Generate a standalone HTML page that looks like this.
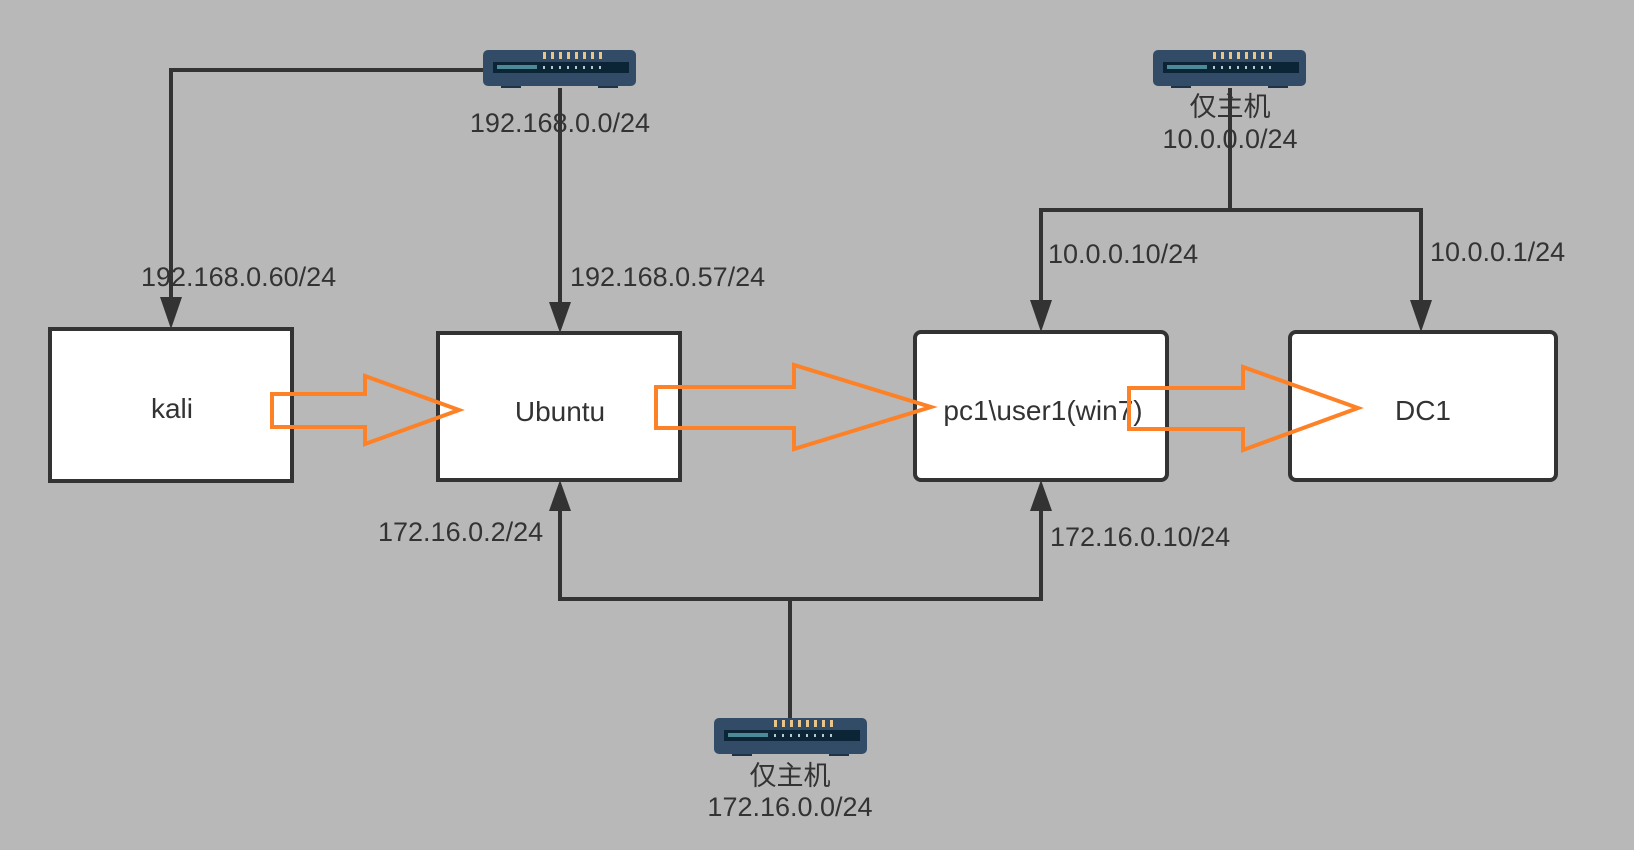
<!DOCTYPE html>
<html><head><meta charset="utf-8"><style>
html,body{margin:0;padding:0;background:#b8b8b8;}
svg{display:block}
text{font-family:"Liberation Sans","Noto Sans CJK SC",sans-serif;fill:#333;}
</style></head><body>
<svg width="1634" height="850" viewBox="0 0 1634 850" xmlns="http://www.w3.org/2000/svg">
<defs>
<g id="sw">
<rect x="0" y="0" width="153" height="36" rx="5" fill="#324b66"/>
<rect x="10" y="12" width="136" height="11" fill="#0b2436"/>
<rect x="14" y="15" width="40" height="4" fill="#4b8a96"/>
<g fill="#e8c58a"><rect x="60" y="2" width="3" height="7"/><rect x="68" y="2" width="3" height="7"/><rect x="76" y="2" width="3" height="7"/><rect x="84" y="2" width="3" height="7"/><rect x="92" y="2" width="3" height="7"/><rect x="100" y="2" width="3" height="7"/><rect x="108" y="2" width="3" height="7"/><rect x="116" y="2" width="3" height="7"/></g>
<g fill="#b8c8d0"><rect x="60" y="16" width="2" height="3"/><rect x="68" y="16" width="2" height="3"/><rect x="76" y="16" width="2" height="3"/><rect x="84" y="16" width="2" height="3"/><rect x="92" y="16" width="2" height="3"/><rect x="100" y="16" width="2" height="3"/><rect x="108" y="16" width="2" height="3"/><rect x="116" y="16" width="2" height="3"/></g>
<rect x="18" y="36" width="20" height="2" fill="#1e3348"/><rect x="115" y="36" width="20" height="2" fill="#1e3348"/>
</g>
</defs>
<g stroke="#333" stroke-width="4" fill="none">
<polyline points="483,70 171,70 171,300"/>
<line x1="560" y1="88" x2="560" y2="305"/>
<polyline points="1230,88 1230,210 1041,210 1041,303"/>
<polyline points="1230,210 1421,210 1421,303"/>
<polyline points="560,508 560,599 1041,599 1041,508"/>
<line x1="790" y1="599" x2="790" y2="718"/>
</g>
<g fill="#333">
<polygon points="160,297 182,297 171,329"/>
<polygon points="549,302 571,302 560,333"/>
<polygon points="1030,300 1052,300 1041,332"/>
<polygon points="1410,300 1432,300 1421,332"/>
<polygon points="549,511 571,511 560,480"/>
<polygon points="1030,511 1052,511 1041,480"/>
</g>
<g fill="#fff" stroke="#333" stroke-width="4">
<rect x="50" y="329" width="242" height="152"/>
<rect x="438" y="333" width="242" height="147"/>
<rect x="915" y="332" width="252" height="148" rx="6"/>
<rect x="1290" y="332" width="266" height="148" rx="6"/>
</g>
<use href="#sw" x="483" y="50"/>
<use href="#sw" x="1153" y="50"/>
<use href="#sw" x="714" y="718"/>
<g font-size="28">
<text x="172" y="418" text-anchor="middle">kali</text>
<text x="560" y="421" text-anchor="middle">Ubuntu</text>
<text x="1043" y="420" text-anchor="middle">pc1\user1(win7)</text>
<text x="1423" y="420" text-anchor="middle">DC1</text>
</g>
<g font-size="27">
<text x="560" y="132" text-anchor="middle">192.168.0.0/24</text>
<text x="141" y="286">192.168.0.60/24</text>
<text x="570" y="286">192.168.0.57/24</text>
<text x="1230" y="116" text-anchor="middle">仅主机</text>
<text x="1230" y="148" text-anchor="middle">10.0.0.0/24</text>
<text x="1048" y="263">10.0.0.10/24</text>
<text x="1430" y="261">10.0.0.1/24</text>
<text x="378" y="541">172.16.0.2/24</text>
<text x="1050" y="546">172.16.0.10/24</text>
<text x="790" y="785" text-anchor="middle">仅主机</text>
<text x="790" y="816" text-anchor="middle">172.16.0.0/24</text>
</g>
<g fill="none" stroke="#fd8126" stroke-width="4">
<polygon points="272,394 365,394 365,376 459,410 365,444 365,427 272,427"/>
<polygon points="656,387 794,387 794,365 931,407 794,449 794,428 656,428"/>
<polygon points="1129,388 1243,388 1243,367 1358,408 1243,450 1243,429 1129,429"/>
</g>
</svg>
</body></html>
